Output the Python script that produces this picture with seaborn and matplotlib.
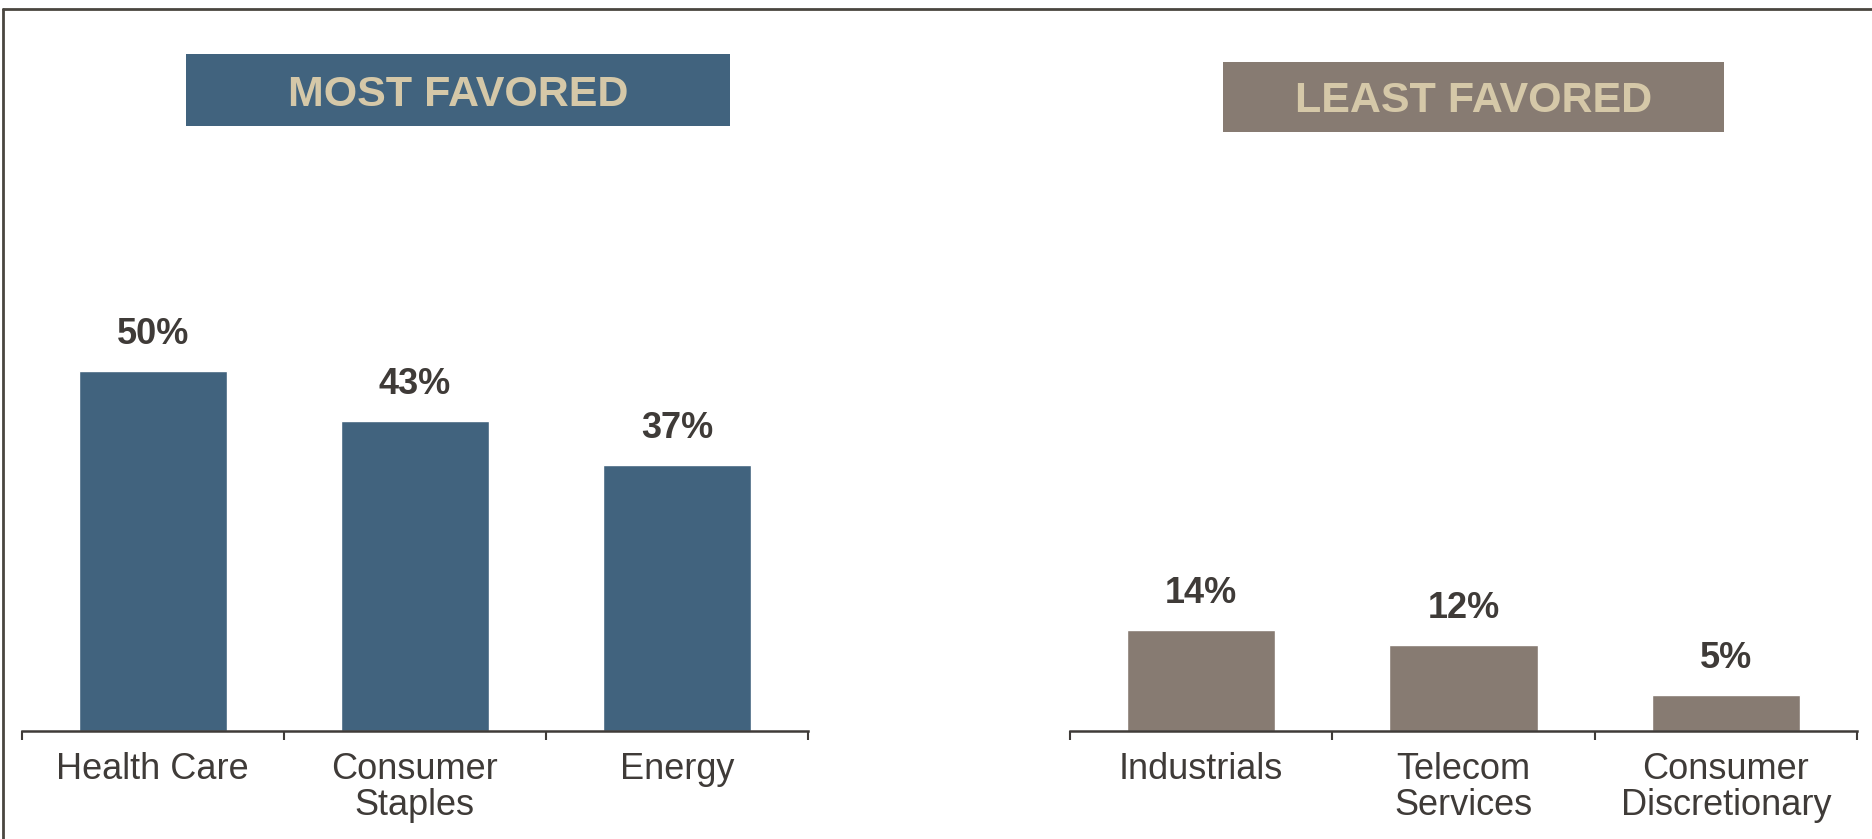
import matplotlib
matplotlib.use("Agg")
import matplotlib.pyplot as plt
from matplotlib.patches import Rectangle
from matplotlib.lines import Line2D
import seaborn as sns
import pandas as pd

# Sector preferences
most_categories = ["Health Care", "Consumer\nStaples", "Energy"]
most_values = [50, 43, 37]
least_categories = ["Industrials", "Telecom\nServices", "Consumer\nDiscretionary"]
least_values = [14, 12, 5]
panel_titles = ["MOST FAVORED", "LEAST FAVORED"]

BLUE = "#41637e"
TAUPE = "#877b72"
BEIGE = "#d5c8a8"
INK = "#3f3b38"
FRAME = "#4a4640"

sns.set_theme(style="white")
plt.rcParams["font.family"] = ["Liberation Sans", "DejaVu Sans"]

W, H = 1872, 839
fig = plt.figure(figsize=(W / 100, H / 100), dpi=100)
fig.patch.set_facecolor("white")


def fx(px):
    return px / W


def fy(px_from_top):
    return (H - px_from_top) / H


y_max = 60
ax_bottom = fy(731)
ax_height = (731 - (731 - y_max * 7.2)) / H

panels = [
    (most_categories, most_values, BLUE, (21.5, 808)),
    (least_categories, least_values, TAUPE, (1070, 1857)),
]

for cats, vals, color, (x0, x1) in panels:
    ax = fig.add_axes([fx(x0), ax_bottom, fx(x1 - x0), ax_height])
    df = pd.DataFrame({"sector": cats, "share": vals})
    sns.barplot(data=df, x="sector", y="share", color=color, saturation=1,
                width=0.565, ax=ax)
    ax.set_xlim(-0.5, len(cats) - 0.5)
    ax.set_ylim(0, y_max)
    ax.set_xlabel("")
    ax.set_ylabel("")
    ax.set_yticks([])
    for side in ("top", "right", "left"):
        ax.spines[side].set_visible(False)
    ax.spines["bottom"].set_color(INK)
    ax.spines["bottom"].set_linewidth(1.8)
    ax.set_facecolor("none")

    # category labels centred under bars, separator ticks between them
    ax.set_xticks(range(len(cats)))
    ax.set_xticklabels(cats, fontsize=26, color=INK, linespacing=1.05)
    ax.tick_params(axis="x", which="major", length=0, pad=15)
    ax.set_xticks([i - 0.5 for i in range(len(cats) + 1)], minor=True)
    ax.tick_params(axis="x", which="minor", length=6.5, width=1.5,
                   color=INK, direction="out", bottom=True)

    for i, v in enumerate(vals):
        ax.annotate(f"{v}%", xy=(i, v), xytext=(0, 19.4),
                    textcoords="offset points", ha="center", va="baseline",
                    fontsize=26, fontweight="bold", color=INK)

# Header boxes
headers = [
    (panel_titles[0], BLUE, (186, 730, 54, 126)),
    (panel_titles[1], TAUPE, (1223, 1724, 62, 132)),
]
for title, color, (l, r, t, b) in headers:
    fig.patches.append(Rectangle((fx(l), fy(b)), fx(r - l), (b - t) / H,
                                 transform=fig.transFigure, facecolor=color,
                                 edgecolor="none", zorder=1))
    fig.text(fx((l + r) / 2), fy((t + b) / 2), title, ha="center",
             va="center_baseline", fontsize=31, fontweight="bold",
             color=BEIGE, zorder=2)

# Outer frame (top and left edges)
fig.lines.append(Line2D([fx(3), 1.0], [fy(9), fy(9)], transform=fig.transFigure,
                        color=FRAME, linewidth=2.0))
fig.lines.append(Line2D([fx(3), fx(3)], [0.0, fy(9)], transform=fig.transFigure,
                        color=FRAME, linewidth=2.0))

fig.savefig("out.png", dpi=100, facecolor="white")
